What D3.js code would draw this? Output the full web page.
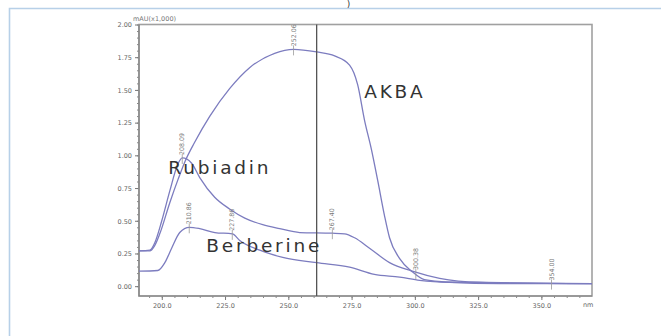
<!DOCTYPE html>
<html>
<head>
<meta charset="utf-8">
<script src="https://cdn.jsdelivr.net/npm/d3@7"></script>
<style>
  body { margin: 0; background: #fff; }
  svg { display: block; font-family: "DejaVu Sans", sans-serif; }
</style>
</head>
<body>
<svg id="chart"></svg>
<script>
// wavelength (nm) / absorbance (mAU x1,000)
const akbaNm  = [191, 195.3, 197.2, 199.2, 203.2, 206.5, 209.1, 213, 219, 226.8, 234.7, 244.6, 252.1, 261.2, 268.3, 274.2, 277.4, 280.1, 282.9, 285.3, 288, 290, 294, 299, 303.8, 313.7, 333.4, 370];
const akbaAbs = [0.27, 0.27, 0.31, 0.4, 0.64, 0.82, 0.95, 1.1, 1.3, 1.51, 1.67, 1.78, 1.81, 1.79, 1.76, 1.69, 1.54, 1.27, 1.04, 0.81, 0.54, 0.37, 0.21, 0.11, 0.05, 0.03, 0.02, 0.02];

const rubiNm  = [191, 195.3, 197.2, 200, 203.2, 206.3, 208.1, 211.8, 215, 220.9, 226.8, 232.8, 239.9, 246.6, 254.5, 267.4, 272.2, 276.2, 282.1, 290, 299, 309.8, 325.5, 370];
const rubiAbs = [0.27, 0.275, 0.33, 0.5, 0.73, 0.93, 0.98, 0.94, 0.83, 0.68, 0.59, 0.52, 0.47, 0.44, 0.41, 0.405, 0.4, 0.37, 0.29, 0.18, 0.115, 0.06, 0.03, 0.02];

const berbNm  = [191, 198.4, 201.2, 203.9, 207.1, 210.9, 215, 221, 227.9, 230.8, 238.7, 247.8, 261.2, 274.2, 284, 294, 301.9, 313.7, 370];
const berbAbs = [0.115, 0.12, 0.18, 0.29, 0.41, 0.45, 0.44, 0.41, 0.40, 0.35, 0.275, 0.22, 0.18, 0.145, 0.09, 0.07, 0.045, 0.03, 0.02];

// peak markers
const peakNm   = [208.09, 210.86, 227.86, 252.06, 267.40, 300.38, 354.00];
const peakAbs  = [0.98, 0.45, 0.40, 1.81, 0.405, 0.10, 0.02];
const peakText = ['208.09', '210.86', '227.86', '252.06', '267.40', '300.38', '354.00'];

const yTicks = [0, 0.25, 0.5, 0.75, 1.0, 1.25, 1.5, 1.75, 2.0];
const xTicks = [200, 225, 250, 275, 300, 325, 350];
const cursorNm = 261.2;

const names = [
  {text: 'AKBA', nm: 280, abs: 1.44},
  {text: 'Rubiadin', nm: 202.6, abs: 0.86},
  {text: 'Berberine', nm: 217.6, abs: 0.26}
];

const WIDTH = 661, HEIGHT = 336;
const margin = {top: 24.5, right: 69, bottom: 40, left: 139},
    width = WIDTH - margin.left - margin.right,
    height = HEIGHT - margin.top - margin.bottom;

const svg = d3.select('#chart')
    .attr('width', WIDTH)
    .attr('height', HEIGHT);

// outer light-blue frame
svg.append('path')
    .attr('d', `M9.5,${HEIGHT} V8.5 H${WIDTH}`)
    .attr('fill', 'none')
    .attr('stroke', '#b7d0e8')
    .attr('stroke-width', 1.6);

svg.append('text')
    .attr('x', 347).attr('y', 7)
    .attr('font-size', 8)
    .attr('fill', '#222')
    .text(')');

const g = svg.append('g')
    .attr('transform', `translate(${margin.left},${margin.top})`);

const x = d3.scaleLinear().domain([191, 370]).range([0, width]);
const y = d3.scaleLinear().domain([-0.075, 2.0]).range([height, 0]);

// minor ticks
g.append('g')
    .attr('transform', `translate(0,${height})`)
    .call(d3.axisBottom(x).tickValues(d3.range(195, 370, 5)).tickSize(2).tickFormat(''))
    .call(a => a.select('.domain').remove())
    .selectAll('line').attr('stroke', '#888');
g.append('g')
    .call(d3.axisLeft(y).tickValues(d3.range(0, 2.001, 0.05)).tickSize(2).tickFormat(''))
    .call(a => a.select('.domain').remove())
    .selectAll('line').attr('stroke', '#888');

// major ticks
const xAxis = g.append('g')
    .attr('transform', `translate(0,${height})`)
    .call(d3.axisBottom(x).tickValues(xTicks).tickSize(4).tickFormat(d3.format('.1f')));
const yAxis = g.append('g')
    .call(d3.axisLeft(y).tickValues(yTicks).tickSize(4).tickFormat(d3.format('.2f')));
[xAxis, yAxis].forEach(a => {
  a.select('.domain').remove();
  a.selectAll('line').attr('stroke', '#777');
  a.selectAll('text').attr('fill', '#666').attr('font-size', 6.5)
      .attr('font-family', '"DejaVu Sans", sans-serif');
});
yAxis.selectAll('text').attr('dy', '0.35em');

g.append('text')
    .attr('x', width - 9).attr('y', height + 11)
    .attr('font-size', 6.5).attr('fill', '#666')
    .text('nm');

g.append('text')
    .attr('x', -6).attr('y', -4)
    .attr('font-size', 6.5).attr('fill', '#777')
    .text('mAU(x1,000)');

// plot frame
g.append('rect')
    .attr('width', width).attr('height', height)
    .attr('fill', 'none')
    .attr('stroke', '#a0a0a0')
    .attr('stroke-width', 1.6);
g.append('path')
    .attr('d', `M0,0 V${height} H${width}`)
    .attr('fill', 'none')
    .attr('stroke', '#808080')
    .attr('stroke-width', 1.2);

// spectra
const line = d3.line()
    .x(d => x(d[0]))
    .y(d => y(d[1]))
    .curve(d3.curveMonotoneX);

const series = [
  d3.zip(akbaNm, akbaAbs),
  d3.zip(rubiNm, rubiAbs),
  d3.zip(berbNm, berbAbs)
];
g.selectAll('.spec')
    .data(series)
    .join('path')
    .attr('class', 'spec')
    .attr('d', line)
    .attr('fill', 'none')
    .attr('stroke', '#7c7cbf')
    .attr('stroke-width', 1.3);

// cursor line
g.append('line')
    .attr('x1', x(cursorNm)).attr('x2', x(cursorNm))
    .attr('y1', 0).attr('y2', height)
    .attr('stroke', '#555')
    .attr('stroke-width', 1.3);

// peak labels
const peaks = g.selectAll('.peak')
    .data(d3.range(peakNm.length))
    .join('g')
    .attr('class', 'peak')
    .attr('transform', i => `translate(${x(peakNm[i])},${y(peakAbs[i])})`);
peaks.append('line')
    .attr('y1', -4).attr('y2', 6)
    .attr('stroke', '#999').attr('stroke-width', 0.8);
peaks.append('text')
    .attr('transform', 'translate(2,-3) rotate(-90)')
    .attr('font-size', 6.3)
    .attr('fill', '#777')
    .text(i => peakText[i]);

// compound names
g.selectAll('.name')
    .data(names)
    .join('text')
    .attr('class', 'name')
    .attr('x', d => x(d.nm))
    .attr('y', d => y(d.abs))
    .attr('font-size', 18.5)
    .attr('letter-spacing', 2.8)
    .attr('fill', '#333')
    .text(d => d.text);
</script>
</body>
</html>
